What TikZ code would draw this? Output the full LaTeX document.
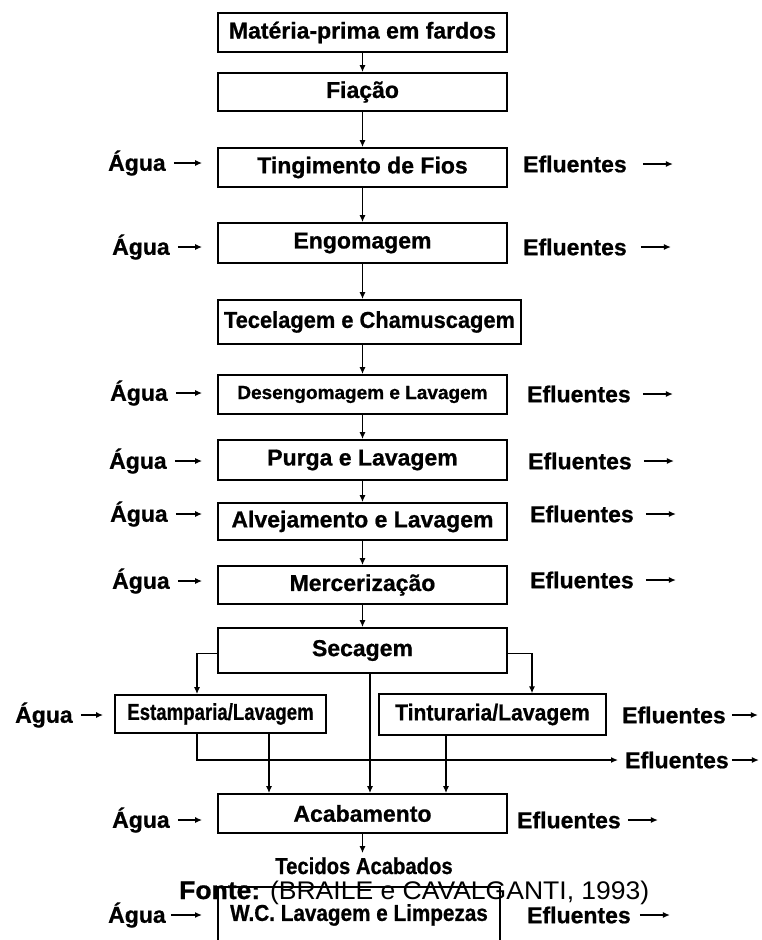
\documentclass[tikz,border=0pt]{standalone}
\usepackage{fontspec}
\setmainfont{Liberation Sans}[BoldFeatures={FakeBold=0.8}]
\usetikzlibrary{arrows.meta}
\newcommand\sx[2]{\scalebox{#1}[1]{#2}}
\begin{document}
\begin{tikzpicture}[x=1pt,y=-1pt,
  lbl/.style={font=\bfseries\fontsize{23}{26}\selectfont, inner sep=0pt},
  box/.style={draw, line width=1.8pt, lbl, minimum width=289pt},
  arr/.style={-{Latex[length=7pt,width=6pt]}, line width=1.3pt},
  ln/.style={line width=1.3pt}]
\useasboundingbox (0,0) rectangle (761,940);
% main column boxes
\node[box, minimum height=39pt] (m1) at (362.5,32.5) {Matéria-prima em fardos};
\node[box, minimum height=38pt] (m2) at (362.5,92) {Fiação};
\node[box, minimum height=39pt] (m3) at (362.5,167.5) {Tingimento de Fios};
\node[box, minimum height=40pt] (m4) at (362.5,243) {Engomagem};
\node[box, minimum height=44pt, minimum width=303pt] (m5) at (369.5,322) {\sx{0.95}{Tecelagem e Chamuscagem}};
\node[box, minimum height=39pt, font=\bfseries\fontsize{19}{22}\selectfont] (m6) at (362.5,394.5) {Desengomagem e Lavagem};
\node[box, minimum height=40pt] (m7) at (362.5,460) {Purga e Lavagem};
\node[box, minimum height=37pt] (m8) at (362.5,521.5) {Alvejamento e Lavagem};
\node[box, minimum height=38pt] (m9) at (362.5,585) {Mercerização};
\node[box, minimum height=45pt] (m10) at (362.5,650.5) {Secagem};
\node[box, minimum height=38pt, minimum width=211pt] (e1) at (220.5,714) {\sx{0.81}{Estamparia/Lavagem}};
\node[box, minimum height=41pt, minimum width=227pt, line width=1.3pt] (t1) at (492.5,714.5) {\sx{0.92}{Tinturaria/Lavagem}};
\node[box, minimum height=39pt] (ac) at (362.5,813.5) {Acabamento};
\node[lbl, anchor=base] (tec) at (364,874) {\sx{0.88}{Tecidos Acabados}};
% source line and W.C. box
\node[anchor=base west, inner sep=0pt, font=\fontsize{25.5}{30}\selectfont] (fonte) at (179,899) {\sx{1.04}{\textbf{Fonte:} (BRAILE e CAVALGANTI, 1993)}};
\draw[ln] (218,945) -- (218,887) -- (500,887) -- (500,945);
\node[lbl] (wc) at (359,915) {\sx{0.9}{W.C. Lavagem e Limpezas}};
\coordinate (wcl) at (218,915);
% main flow arrows
\foreach \a/\b in {m1/m2,m2/m3,m3/m4,m6/m7,m7/m8,m8/m9,m9/m10}
  \draw[arr] (\a.south) -- (\b.north);
\draw[arr] (m4.south) -- (m4.south |- m5.north);
\draw[arr] (m4.south |- m5.south) -- (m6.north);
% Secagem branches
\draw[arr] ([yshift=-3pt]m10.west) -| ([xshift=-23.5pt]e1.north);
\draw[arr] ([yshift=-3pt]m10.east) -| ([xshift=39.5pt]t1.north);
\draw[arr] ([xshift=7.5pt]m10.south) -- ([xshift=7.5pt]m10.south |- ac.north);
\draw[arr] ([xshift=48.5pt]e1.south) -- ([xshift=48.5pt]e1.south |- ac.north);
\draw[arr] ([xshift=-46.5pt]t1.south) -- ([xshift=-46.5pt]t1.south |- ac.north);
\draw[arr, shorten >=4pt] (ac.south) -- (ac.south |- tec.north);
% water inputs
\foreach \n/\x/\y/\t in {a3/108/163/m3, a4/112/247/m4, a6/110/393/m6, a7/109/461/m7, a8/110/514/m8, a9/112/581/m9, aa/112/820/ac}{
  \node[lbl, anchor=west] (\n) at (\x,\y) {Água};
  \draw[arr, shorten <=8pt, shorten >=15pt] (\n.east) -- (\n.east -| \t.west);
}
\node[lbl, anchor=west] (ae) at (15,715) {Água};
\draw[arr, shorten <=8pt, shorten >=11pt] (ae.east) -- (ae.east -| e1.west);
\node[lbl, anchor=west] (aw) at (108,915) {Água};
\draw[arr, shorten <=5pt, shorten >=16pt] (aw.east) -- (wcl);
% effluents
\foreach \n/\x/\y/\s in {f3/523/164/16, f4/523/247/14, f6/527/394/12, f7/528/461/12, f8/530/514/12, f9/530/580/12, fa/517/820/7, fw/527/915/9}{
  \node[lbl, anchor=west] (\n) at (\x,\y) {Efluentes};
  \draw[arr] ([xshift=\s pt]\n.east) -- ([xshift=\s pt+30pt]\n.east);
}
\node[lbl, anchor=west] (ft) at (622,715) {Efluentes};
\draw[arr] ([xshift=6pt]ft.east) -- ([xshift=32pt]ft.east);
\node[lbl, anchor=west] (fx) at (625,760) {Efluentes};
\draw[arr] ([xshift=3pt]fx.east) -- ([xshift=30pt]fx.east);
\draw[arr, shorten >=7pt] ([xshift=-23.5pt]e1.south) |- (fx.west);
\end{tikzpicture}
\end{document}
